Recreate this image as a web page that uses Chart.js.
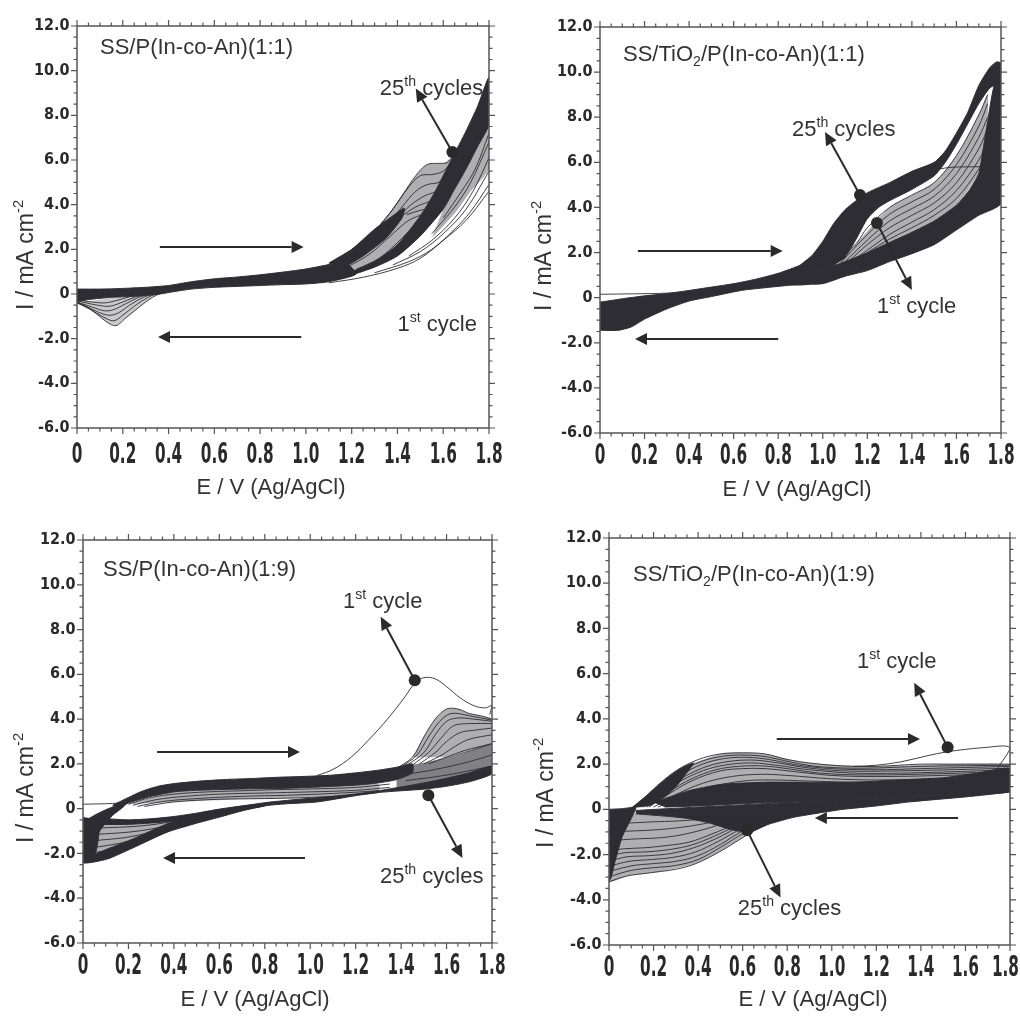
<!DOCTYPE html>
<html>
<head>
<meta charset="utf-8">
<title>Cyclic voltammograms</title>
<script src="https://cdn.jsdelivr.net/npm/chart.js@4.4.0/dist/chart.umd.min.js"></script>
<style>
  body { margin: 0; background: #fff; overflow: hidden; }
  canvas { position: absolute; }
</style>
</head>
<body>
<canvas id="c1" width="510" height="506" style="left:0;top:0"></canvas>
<canvas id="c2" width="510" height="506" style="left:510px;top:0"></canvas>
<canvas id="c3" width="510" height="517" style="left:0;top:500px"></canvas>
<canvas id="c4" width="510" height="517" style="left:510px;top:500px"></canvas>
<script>
// axis ticks
const xTicks = [0, 0.2, 0.4, 0.6, 0.8, 1.0, 1.2, 1.4, 1.6, 1.8];
const xTickLabels = ['0', '0.2', '0.4', '0.6', '0.8', '1.0', '1.2', '1.4', '1.6', '1.8'];
const yTicks = [-6, -4, -2, 0, 2, 4, 6, 8, 10, 12];
const yTickLabels = ['-6.0', '-4.0', '-2.0', '0', '2.0', '4.0', '6.0', '8.0', '10.0', '12.0'];

// ---- panel 1 : SS/P(In-co-An)(1:1)   points are [E (V), I (mA cm-2)]
const p1Base = [[0,0.22],[0.1,0.22],[0.2,0.25],[0.3,0.3],[0.4,0.38],[0.5,0.55],[0.6,0.68],[0.7,0.76],[0.8,0.86],[0.9,0.98],[1.0,1.12],[1.1,1.32],[1.16,1.5],[1.22,0.9],[1.1,0.55],[1.0,0.45],[0.9,0.42],[0.8,0.38],[0.7,0.34],[0.6,0.3],[0.5,0.22],[0.42,0.1],[0.35,-0.02],[0.25,-0.1],[0.15,-0.15],[0.05,-0.25],[0,-0.35]];
const p1Branch = [[1.1,1.38],[1.2,2.0],[1.3,2.9],[1.38,3.5],[1.43,3.85],[1.42,3.4],[1.35,2.5],[1.25,1.7],[1.16,1.15]];
const p1Main = [[1.2,1.0],[1.3,1.45],[1.4,2.2],[1.5,3.5],[1.56,4.5],[1.6,5.3],[1.64,6.1],[1.7,7.3],[1.75,8.4],[1.8,9.7],[1.8,7.6],[1.75,6.6],[1.7,5.6],[1.65,4.7],[1.6,3.8],[1.5,2.6],[1.4,1.7],[1.3,1.2],[1.2,0.85]];
const p1HumpArea = [[1.15,1.3],[1.25,2.3],[1.35,3.4],[1.42,4.4],[1.48,5.3],[1.53,5.8],[1.6,5.85],[1.64,6.1],[1.56,4.5],[1.5,3.5],[1.4,2.2],[1.3,1.45],[1.2,1.0]];
const p1RightArea = [[1.55,2.5],[1.65,3.6],[1.72,4.6],[1.8,5.6],[1.8,7.6],[1.7,5.6],[1.6,3.8]];
const p1Hump1 = [[1.15,1.45],[1.25,2.3],[1.35,3.4],[1.42,4.4],[1.48,5.3],[1.53,5.8],[1.58,5.85],[1.62,5.9],[1.66,6.5]];
const p1Hump2 = [[1.3,2.8],[1.38,3.8],[1.45,4.8],[1.5,5.3],[1.55,5.35],[1.6,5.5],[1.65,6.1]];
const p1Hump3 = [[1.35,3.0],[1.42,3.9],[1.48,4.6],[1.53,4.9],[1.58,5.0],[1.63,5.5]];
const p1Hump4 = [[1.4,3.4],[1.46,4.0],[1.52,4.4],[1.57,4.6],[1.62,5.0]];
const p1Hump5 = [[1.42,3.5],[1.48,3.9],[1.53,4.1],[1.58,4.3],[1.62,4.7]];
const p1Hump6 = [[1.44,3.55],[1.5,3.75],[1.55,3.85],[1.6,4.2]];
const p1Hump7 = [[1.18,1.2],[1.28,1.8],[1.38,2.7],[1.45,3.3],[1.52,3.6]];
const p1Hump8 = [[1.22,1.1],[1.32,1.6],[1.4,2.3],[1.47,3.0],[1.52,3.3]];
const p1Hump9 = [[1.25,1.15],[1.35,1.75],[1.43,2.5],[1.5,3.1]];
const p1Rev1 = [[1.1,0.5],[1.25,0.75],[1.4,1.15],[1.5,1.6],[1.6,2.4],[1.7,3.3],[1.8,4.6]];
const p1Rev2 = [[1.3,0.95],[1.45,1.45],[1.55,2.0],[1.65,2.9],[1.72,3.7],[1.8,4.9]];
const p1Rev3 = [[1.38,1.3],[1.5,1.9],[1.6,2.7],[1.7,3.8],[1.8,5.5]];
const p1Rev4 = [[1.45,1.7],[1.55,2.4],[1.65,3.4],[1.73,4.6],[1.8,6.1]];
const p1Rev5 = [[1.55,2.7],[1.65,3.9],[1.72,5.0],[1.8,6.8]];
const p1Rev6 = [[1.6,3.4],[1.68,4.6],[1.74,5.6],[1.8,7.2]];
const p1Dip1 = [[0.4,0.2],[0.33,-0.15],[0.27,-0.6],[0.21,-1.1],[0.17,-1.42],[0.13,-1.25],[0.08,-0.85],[0.03,-0.5],[0,-0.4]];
const p1Dip2 = [[0.38,0.15],[0.31,-0.15],[0.25,-0.55],[0.2,-0.95],[0.16,-1.2],[0.11,-1.0],[0.06,-0.7],[0,-0.4]];
const p1Dip3 = [[0.36,0.1],[0.29,-0.15],[0.23,-0.5],[0.18,-0.85],[0.14,-0.95],[0.09,-0.8],[0.04,-0.55],[0,-0.38]];
const p1Dip4 = [[0.34,0.08],[0.27,-0.15],[0.21,-0.45],[0.16,-0.7],[0.12,-0.75],[0.07,-0.6],[0,-0.35]];
const p1Dip5 = [[0.32,0.05],[0.25,-0.15],[0.19,-0.4],[0.14,-0.55],[0.09,-0.5],[0.04,-0.4],[0,-0.3]];
const p1Dip6 = [[0.3,0.03],[0.23,-0.12],[0.17,-0.3],[0.12,-0.4],[0.06,-0.35],[0,-0.28]];

// ---- panel 2 : SS/TiO2/P(In-co-An)(1:1)
const p2Trunk = [[0,-0.2],[0.1,-0.05],[0.2,0.08],[0.3,0.18],[0.4,0.32],[0.5,0.47],[0.6,0.62],[0.7,0.82],[0.8,1.08],[0.9,1.45],[0.95,1.8],[0.95,0.65],[0.85,0.55],[0.75,0.45],[0.64,0.33],[0.5,0.05],[0.4,-0.15],[0.3,-0.5],[0.2,-0.95],[0.14,-1.3],[0.08,-1.45],[0,-1.45]];
const p2Upper = [[0.9,1.45],[0.95,1.85],[1.0,2.5],[1.05,3.3],[1.1,3.9],[1.15,4.3],[1.2,4.65],[1.3,5.1],[1.4,5.6],[1.5,6.0],[1.55,6.5],[1.6,7.3],[1.65,8.2],[1.7,9.4],[1.75,10.2],[1.78,10.45],[1.8,10.4],[1.8,9.6],[1.75,9.3],[1.7,8.6],[1.65,7.7],[1.6,6.8],[1.55,6.0],[1.5,5.4],[1.4,4.8],[1.3,4.3],[1.25,4.0],[1.2,3.5],[1.15,2.6],[1.1,1.8],[1.05,1.45],[1.0,1.25],[0.9,1.0]];
const p2Lower = [[0.9,0.95],[1.0,1.25],[1.1,1.6],[1.2,2.0],[1.3,2.45],[1.4,2.9],[1.5,3.4],[1.6,4.1],[1.66,4.8],[1.7,5.5],[1.72,6.6],[1.74,7.8],[1.76,9.0],[1.78,9.8],[1.8,10.0],[1.8,4.2],[1.7,3.65],[1.6,3.0],[1.5,2.35],[1.4,1.95],[1.3,1.6],[1.2,1.2],[1.1,0.95],[1.0,0.62],[0.9,0.6]];
const p2FanArea = [[1.05,1.5],[1.15,2.4],[1.3,4.0],[1.5,5.1],[1.6,6.3],[1.7,8.1],[1.74,9.0],[1.74,7.8],[1.72,6.6],[1.7,5.5],[1.6,4.1],[1.5,3.4],[1.3,2.45],[1.1,1.6]];
const p2Fan1 = [[1.05,1.5],[1.15,2.4],[1.2,3.1],[1.3,4.0],[1.4,4.55],[1.5,5.1],[1.6,6.3],[1.7,8.1],[1.74,9.0]];
const p2Fan2 = [[1.08,1.55],[1.2,2.8],[1.3,3.7],[1.4,4.25],[1.5,4.8],[1.6,5.9],[1.7,7.6],[1.74,8.6]];
const p2Fan3 = [[1.1,1.6],[1.2,2.55],[1.3,3.4],[1.4,3.95],[1.5,4.5],[1.6,5.5],[1.7,7.1],[1.74,8.0]];
const p2Fan4 = [[1.12,1.65],[1.2,2.35],[1.3,3.1],[1.4,3.65],[1.5,4.2],[1.6,5.1],[1.7,6.6],[1.74,7.5]];
const p2Fan5 = [[1.15,1.75],[1.3,2.8],[1.4,3.35],[1.5,3.9],[1.6,4.75],[1.7,6.1],[1.74,6.9]];
const p2Fan6 = [[1.2,2.0],[1.3,2.6],[1.4,3.1],[1.5,3.65],[1.6,4.4],[1.7,5.7],[1.73,6.3]];
const p2First = [[0,0.15],[0.15,0.17],[0.3,0.2],[0.45,0.3]];
const p2FirstTop = [[1.35,4.9],[1.45,5.5],[1.55,5.75],[1.65,5.8],[1.8,5.8]];
const p2Slit = [[0.25,-0.05],[0.4,0.05],[0.55,0.15],[0.68,0.25]];

// ---- panel 3 : SS/P(In-co-An)(1:9)
const p3Upper = [[0.13,0.15],[0.2,0.5],[0.26,0.78],[0.33,1.0],[0.4,1.12],[0.5,1.22],[0.62,1.3],[0.75,1.35],[0.85,1.4],[1.0,1.45],[1.1,1.5],[1.2,1.6],[1.3,1.72],[1.38,1.85],[1.45,2.0],[1.45,1.6],[1.38,1.3],[1.3,1.15],[1.2,1.05],[1.1,1.0],[1.0,0.95],[0.85,0.9],[0.7,0.88],[0.5,0.82],[0.4,0.75],[0.3,0.55],[0.2,0.25],[0.15,0.05]];
const p3UpperArea = [[0.2,0.2],[0.4,0.75],[0.7,0.88],[1.0,0.95],[1.3,1.1],[1.3,0.72],[1.0,0.5],[0.7,0.42],[0.4,0.3]];
const p3Up1 = [[0.2,0.2],[0.3,0.5],[0.4,0.65],[0.55,0.75],[0.7,0.8],[0.85,0.85],[1.0,0.88],[1.2,0.95],[1.35,1.1]];
const p3Up2 = [[0.22,0.15],[0.32,0.4],[0.45,0.55],[0.6,0.65],[0.8,0.7],[1.0,0.75],[1.2,0.82],[1.35,0.95]];
const p3Up3 = [[0.24,0.1],[0.35,0.32],[0.5,0.45],[0.7,0.55],[0.9,0.6],[1.1,0.68],[1.3,0.8]];
const p3Up4 = [[0.27,0.1],[0.4,0.3],[0.6,0.42],[0.8,0.45],[1.0,0.5],[1.2,0.62],[1.3,0.72]];
const p3Lower = [[0.06,-2.0],[0.12,-1.75],[0.22,-1.35],[0.37,-0.68],[0.52,-0.22],[0.66,0.05],[0.81,0.28],[0.95,0.42],[1.1,0.55],[1.2,0.66],[1.3,0.8],[1.4,0.97],[1.5,1.15],[1.6,1.36],[1.7,1.6],[1.8,1.9],[1.8,1.55],[1.7,1.2],[1.6,1.0],[1.5,0.87],[1.4,0.8],[1.3,0.72],[1.2,0.58],[1.03,0.3],[0.9,0.22],[0.81,0.14],[0.7,-0.1],[0.6,-0.38],[0.5,-0.65],[0.37,-1.05],[0.22,-1.75],[0.12,-2.2],[0.05,-2.38],[0,-2.42],[0,-2.1]];
const p3FanTop = [[0,-0.45],[0.1,-0.45],[0.2,-0.5],[0.3,-0.45],[0.4,-0.35],[0.5,-0.2],[0.6,-0.02],[0.7,0.12],[0.8,0.22],[0.8,0.12],[0.6,-0.2],[0.4,-0.55],[0.2,-0.7],[0,-0.7]];
const p3FanArea = [[0,-0.5],[0.2,-0.5],[0.4,-0.35],[0.6,-0.05],[0.8,0.2],[0.66,-0.15],[0.52,-0.5],[0.37,-1.0],[0.22,-1.7],[0.1,-2.3],[0,-2.4]];
const p3Strip = [[0,-0.4],[0.05,-0.5],[0.07,-1.0],[0.06,-1.8],[0.04,-2.35],[0,-2.4]];
const p3Wedge = [[0,-0.6],[0.05,-0.3],[0.1,-0.05],[0.15,0.15],[0.2,0.35],[0.18,0.1],[0.13,-0.3],[0.08,-0.9],[0.04,-1.6],[0,-2.1]];
const p3Fan1 = [[0.78,0.15],[0.65,-0.05],[0.5,-0.35],[0.35,-0.65],[0.22,-0.8],[0.1,-0.85],[0,-0.9]];
const p3Fan2 = [[0.76,0.12],[0.62,-0.12],[0.48,-0.45],[0.33,-0.85],[0.2,-1.05],[0.1,-1.12],[0,-1.2]];
const p3Fan3 = [[0.74,0.1],[0.6,-0.2],[0.45,-0.6],[0.3,-1.05],[0.18,-1.3],[0.08,-1.4],[0,-1.5]];
const p3Fan4 = [[0.72,0.05],[0.58,-0.28],[0.43,-0.75],[0.28,-1.25],[0.16,-1.55],[0.07,-1.7],[0,-1.8]];
const p3Fan5 = [[0.7,0.0],[0.56,-0.35],[0.41,-0.85],[0.26,-1.45],[0.14,-1.8],[0.06,-1.95],[0,-2.05]];
const p3Fan6 = [[0.68,-0.05],[0.54,-0.42],[0.39,-0.95],[0.24,-1.6],[0.12,-2.0],[0.05,-2.15],[0,-2.25]];
const p3Dense = [[1.38,1.85],[1.5,2.05],[1.6,2.3],[1.7,2.6],[1.8,2.9],[1.8,1.6],[1.7,1.3],[1.5,1.0],[1.38,0.9]];
const p3HumpArea = [[1.45,2.3],[1.5,3.2],[1.55,4.0],[1.6,4.45],[1.65,4.45],[1.7,4.25],[1.8,4.0],[1.8,2.9],[1.6,2.3]];
const p3Hump1 = [[1.38,1.8],[1.45,2.3],[1.5,3.2],[1.55,4.0],[1.6,4.45],[1.65,4.45],[1.7,4.25],[1.75,4.15],[1.8,4.0]];
const p3Hump2 = [[1.4,1.85],[1.47,2.4],[1.52,3.2],[1.57,3.9],[1.62,4.25],[1.7,4.15],[1.8,3.95]];
const p3Hump3 = [[1.42,1.9],[1.5,2.5],[1.55,3.3],[1.6,3.9],[1.65,4.05],[1.72,4.0],[1.8,3.9]];
const p3Hump4 = [[1.45,1.95],[1.52,2.5],[1.58,3.2],[1.63,3.7],[1.7,3.8],[1.8,3.8]];
const p3Hump5 = [[1.48,2.0],[1.55,2.5],[1.6,3.0],[1.66,3.4],[1.72,3.5],[1.8,3.6]];
const p3Hump6 = [[1.5,2.0],[1.58,2.4],[1.64,2.8],[1.7,3.1],[1.8,3.3]];
const p3Hump7 = [[1.52,2.0],[1.6,2.3],[1.68,2.6],[1.8,2.9]];
const p3Mid1 = [[1.4,1.5],[1.55,1.75],[1.7,2.1],[1.8,2.4]];
const p3Mid2 = [[1.42,1.25],[1.6,1.5],[1.8,1.9]];
const p3FirstLow = [[0,0.2],[0.1,0.22],[0.16,0.25]];
const p3First = [[1.03,1.48],[1.1,1.75],[1.18,2.3],[1.26,3.1],[1.34,4.0],[1.41,4.9],[1.46,5.6],[1.5,5.85],[1.55,5.8],[1.6,5.45],[1.66,4.95],[1.72,4.6],[1.77,4.5],[1.8,4.6],[1.79,4.2]];

// ---- panel 4 : SS/TiO2/P(In-co-An)(1:9)
const p4Wedge = [[0,0.0],[0.06,0.03],[0.12,0.08],[0.1,-0.4],[0.06,-1.2],[0.03,-2.2],[0.01,-3.0],[0,-3.2]];
const p4HumpEdge = [[0.1,0.05],[0.18,0.7],[0.25,1.3],[0.32,1.8],[0.38,2.05],[0.34,1.5],[0.3,1.0],[0.25,0.55],[0.18,0.15]];
const p4MidBand = [[0.2,0.3],[0.35,0.8],[0.5,1.1],[0.7,1.2],[0.9,1.2],[1.1,1.2],[1.3,1.3],[1.5,1.4],[1.65,1.6],[1.8,1.8],[1.8,0.8],[1.6,0.7],[1.4,0.6],[1.2,0.5],[1.0,0.4],[0.8,0.32],[0.6,0.25],[0.4,0.15],[0.25,0.1]];
const p4RevBand = [[0.12,-0.05],[0.3,0.05],[0.5,0.15],[0.7,0.25],[0.9,0.35],[1.1,0.45],[1.3,0.55],[1.5,0.65],[1.65,0.75],[1.8,0.85],[1.8,0.77],[1.6,0.55],[1.35,0.33],[1.2,0.15],[1.05,0.0],[0.95,-0.15],[0.83,-0.35],[0.72,-0.65],[0.63,-1.0],[0.55,-0.9],[0.45,-0.6],[0.35,-0.4],[0.25,-0.3],[0.12,-0.2]];
const p4HumpArea = [[0.12,0.1],[0.3,1.7],[0.5,2.45],[0.6,2.5],[0.7,2.45],[0.9,2.05],[1.2,1.9],[1.5,2.0],[1.8,2.0],[1.8,1.8],[1.5,1.4],[1.1,1.2],[0.7,1.2],[0.35,0.8],[0.2,0.3]];
const p4Hump1 = [[0.12,0.1],[0.2,0.9],[0.3,1.7],[0.4,2.2],[0.5,2.45],[0.6,2.5],[0.7,2.45],[0.8,2.2],[0.9,2.05],[1.0,1.95],[1.1,1.9],[1.2,1.9],[1.3,1.95],[1.4,2.0],[1.5,2.0],[1.6,2.0],[1.7,2.0],[1.8,2.0]];
const p4Hump2 = [[0.14,0.1],[0.22,0.8],[0.32,1.5],[0.42,2.0],[0.52,2.25],[0.62,2.3],[0.72,2.2],[0.85,1.95],[1.0,1.8],[1.2,1.75],[1.4,1.8],[1.6,1.85],[1.8,1.9]];
const p4Hump3 = [[0.16,0.1],[0.25,0.8],[0.35,1.4],[0.45,1.8],[0.55,2.0],[0.65,2.05],[0.75,1.95],[0.9,1.75],[1.1,1.6],[1.3,1.6],[1.5,1.65],[1.8,1.75]];
const p4Hump4 = [[0.18,0.1],[0.28,0.75],[0.38,1.3],[0.5,1.7],[0.6,1.8],[0.7,1.8],[0.85,1.65],[1.0,1.5],[1.2,1.45],[1.5,1.5],[1.8,1.6]];
const p4Hump5 = [[0.2,0.1],[0.3,0.65],[0.42,1.15],[0.55,1.45],[0.68,1.55],[0.8,1.5],[1.0,1.35],[1.2,1.3],[1.5,1.35],[1.8,1.45]];
const p4Hump6 = [[0.22,0.1],[0.34,0.6],[0.46,1.0],[0.6,1.25],[0.72,1.3],[0.9,1.25],[1.1,1.2],[1.4,1.25],[1.8,1.35]];
const p4Hump7 = [[0.13,0.1],[0.21,0.85],[0.31,1.6],[0.41,2.1],[0.51,2.35],[0.61,2.4],[0.71,2.32],[0.82,2.08],[0.95,1.88],[1.15,1.82],[1.4,1.9],[1.8,1.95]];
const p4Hump8 = [[0.15,0.1],[0.24,0.8],[0.34,1.45],[0.44,1.9],[0.54,2.12],[0.64,2.18],[0.74,2.08],[0.88,1.85],[1.05,1.7],[1.3,1.7],[1.8,1.82]];
const p4Hump9 = [[0.17,0.1],[0.27,0.78],[0.37,1.35],[0.48,1.75],[0.58,1.9],[0.69,1.92],[0.8,1.8],[0.95,1.6],[1.15,1.52],[1.5,1.58],[1.8,1.68]];
const p4FanArea = [[0.72,-0.6],[0.63,-1.07],[0.51,-1.8],[0.39,-2.4],[0.23,-2.75],[0.08,-2.95],[0,-3.2],[0,-0.3],[0.12,-0.2],[0.35,-0.3],[0.55,-0.3]];
const p4Fan1 = [[0.72,-0.6],[0.63,-1.07],[0.51,-1.8],[0.39,-2.4],[0.3,-2.65],[0.23,-2.75],[0.15,-2.85],[0.08,-2.95],[0,-3.2]];
const p4Fan2 = [[0.7,-0.5],[0.6,-0.95],[0.5,-1.55],[0.4,-2.05],[0.3,-2.3],[0.2,-2.4],[0.1,-2.5],[0,-2.75]];
const p4Fan3 = [[0.68,-0.45],[0.58,-0.8],[0.48,-1.3],[0.38,-1.7],[0.28,-1.95],[0.18,-2.05],[0.08,-2.1],[0,-2.3]];
const p4Fan4 = [[0.66,-0.4],[0.56,-0.7],[0.46,-1.1],[0.36,-1.45],[0.26,-1.6],[0.16,-1.7],[0.06,-1.75],[0,-1.85]];
const p4Fan5 = [[0.64,-0.35],[0.54,-0.55],[0.44,-0.85],[0.34,-1.1],[0.24,-1.25],[0.14,-1.3],[0.05,-1.35],[0,-1.4]];
const p4Fan6 = [[0.62,-0.3],[0.52,-0.45],[0.42,-0.65],[0.32,-0.8],[0.22,-0.9],[0.12,-0.95],[0,-1.0]];
const p4Fan7 = [[0.6,-0.25],[0.5,-0.35],[0.4,-0.45],[0.3,-0.52],[0.2,-0.55],[0.1,-0.6],[0,-0.6]];
const p4Fan8 = [[0.71,-0.55],[0.61,-1.02],[0.5,-1.68],[0.4,-2.22],[0.3,-2.48],[0.2,-2.58],[0.1,-2.7],[0,-2.98]];
const p4Fan9 = [[0.69,-0.47],[0.59,-0.88],[0.49,-1.42],[0.39,-1.88],[0.29,-2.12],[0.19,-2.22],[0.09,-2.3],[0,-2.52]];
const p4Fan10 = [[0.67,-0.42],[0.57,-0.75],[0.47,-1.2],[0.37,-1.58],[0.27,-1.78],[0.17,-1.88],[0.07,-1.92],[0,-2.08]];
const p4First = [[1.1,1.9],[1.2,1.95],[1.31,2.1],[1.42,2.35],[1.52,2.55],[1.6,2.65],[1.67,2.72],[1.8,2.72],[1.74,1.75]];
const p4Slit = [[0.13,0.0],[0.4,0.12],[0.7,0.28],[1.0,0.42],[1.2,0.52],[1.45,0.64]];

const INK = '#2d2d33';
const SHADE = 'rgba(45,45,51,0.38)';
const TXT = '#333333';
const SANS = '"Liberation Sans", Arial, sans-serif';
const NARROW = '"Liberation Sans Narrow", "DejaVu Sans Condensed", sans-serif';

const panels = [
  {
    id: 'c1', area: [77, 26, 489, 428], xLab: 27,
    shades: [p1HumpArea, p1RightArea],
    dips: [p1Dip1],
    bands: [p1Base, p1Branch, p1Main],
    lines: [p1Hump1, p1Hump2, p1Hump3, p1Hump4, p1Hump5, p1Hump6, p1Hump7, p1Hump8, p1Hump9,
            p1Rev1, p1Rev2, p1Rev3, p1Rev4, p1Rev5, p1Rev6,
            p1Dip1, p1Dip2, p1Dip3, p1Dip4, p1Dip5, p1Dip6],
    slits: [],
    title: [['SS/P(In-co-An)(1:1)', 0]], titlePos: [100, 54],
    yTitle: [25, 255], xTitle: [271, 494],
    notes: [
      { text: [['25', 0], ['th', 1], [' cycles', 0]], at: [1.323, 9.27], dot: [1.64, 6.36], head: [1.48, 9.2] },
      { text: [['1', 0], ['st', 1], [' cycle', 0]], at: [1.40, -1.3] }
    ],
    hArrows: [[0.362, 0.99, 2.1], [0.98, 0.354, -1.93]]
  },
  {
    id: 'c2', area: [90, 27, 491, 433], xLab: 23,
    shades: [p2FanArea],
    dips: [],
    bands: [p2Trunk, p2Upper, p2Lower],
    lines: [p2Fan1, p2Fan2, p2Fan3, p2Fan4, p2Fan5, p2Fan6, p2First, p2FirstTop],
    slits: [p2Slit],
    title: [['SS/TiO', 0], ['2', -1], ['/P(In-co-An)(1:1)', 0]], titlePos: [113, 61],
    yTitle: [33, 256], xTitle: [287, 496],
    notes: [
      { text: [['25', 0], ['th', 1], [' cycles', 0]], at: [0.862, 7.52], dot: [1.167, 4.55], head: [1.01, 7.35] },
      { text: [['1', 0], ['st', 1], [' cycle', 0]], at: [1.243, -0.32], dot: [1.243, 3.31], head: [1.40, 0.34] }
    ],
    hArrows: [[0.17, 0.82, 2.07], [0.80, 0.157, -1.83]]
  },
  {
    id: 'c3', area: [83, 40, 492, 443], xLab: 23,
    shades: [p3UpperArea, p3FanArea, p3HumpArea],
    dips: [],
    bands: [p3Upper, p3Lower, p3FanTop, p3Strip, p3Wedge],
    lines: [p3Up1, p3Up2, p3Up3, p3Up4, p3Fan1, p3Fan2, p3Fan3, p3Fan4, p3Fan5, p3Fan6,
            p3Hump1, p3Hump2, p3Hump3, p3Hump4, p3Hump5, p3Hump6, p3Hump7, p3Mid1, p3Mid2, p3FirstLow, p3First],
    dense: [p3Dense],
    slits: [],
    title: [['SS/P(In-co-An)(1:9)', 0]], titlePos: [103, 76],
    yTitle: [25, 288], xTitle: [255, 506],
    notes: [
      { text: [['1', 0], ['st', 1], [' cycle', 0]], at: [1.144, 9.32], dot: [1.46, 5.74], head: [1.31, 8.57] },
      { text: [['25', 0], ['th', 1], [' cycles', 0]], at: [1.307, -2.96], dot: [1.52, 0.6], head: [1.67, -2.2] }
    ],
    hArrows: [[0.326, 0.955, 2.53], [0.977, 0.352, -2.2]]
  },
  {
    id: 'c4', area: [99, 38, 500, 445], xLab: 23,
    shades: [p4HumpArea, p4FanArea],
    dips: [],
    bands: [p4Wedge, p4HumpEdge, p4MidBand, p4RevBand],
    lines: [p4Hump1, p4Hump2, p4Hump3, p4Hump4, p4Hump5, p4Hump6, p4Hump7, p4Hump8, p4Hump9,
            p4Fan1, p4Fan2, p4Fan3, p4Fan4, p4Fan5, p4Fan6, p4Fan7, p4Fan8, p4Fan9, p4Fan10, p4First],
    slits: [p4Slit],
    title: [['SS/TiO', 0], ['2', -1], ['/P(In-co-An)(1:9)', 0]], titlePos: [123, 81],
    yTitle: [35, 293], xTitle: [303, 506],
    notes: [
      { text: [['1', 0], ['st', 1], [' cycle', 0]], at: [1.113, 6.61], dot: [1.52, 2.75], head: [1.37, 5.6] },
      { text: [['25', 0], ['th', 1], [' cycles', 0]], at: [0.578, -4.32], dot: [0.62, -0.93], head: [0.77, -3.9] }
    ],
    hArrows: [[0.753, 1.396, 3.11], [1.567, 0.924, -0.38]]
  }
];

function pts(a) {
  return a.map(p => ({ x: p[0], y: p[1] }));
}

function areaSet(a, color) {
  return { data: pts(a), showLine: true, fill: 'shape', backgroundColor: color, borderColor: color,
           borderWidth: 0, pointRadius: 0, tension: 0.2 };
}

function lineSet(a, w, color) {
  return { data: pts(a), showLine: true, fill: false, borderColor: color || INK,
           borderWidth: w, pointRadius: 0, tension: 0.35 };
}

function bandSet(a) {
  const d = areaSet(a, INK);
  d.borderWidth = 1;
  return d;
}

// draw a run of text pieces; level 1 = superscript, -1 = subscript
function richText(ctx, segs, x, y, size, align) {
  const small = size * 0.64;
  let w = 0;
  segs.forEach(s => {
    ctx.font = (s[1] ? small : size) + 'px ' + SANS;
    w += ctx.measureText(s[0]).width;
  });
  let cx = align === 'center' ? x - w / 2 : x;
  segs.forEach(s => {
    ctx.font = (s[1] ? small : size) + 'px ' + SANS;
    const dy = s[1] === 1 ? -size * 0.42 : (s[1] === -1 ? size * 0.22 : 0);
    ctx.fillText(s[0], cx, y + dy);
    cx += ctx.measureText(s[0]).width;
  });
}

function arrow(ctx, x1, y1, x2, y2, lw, hl, hw) {
  const ang = Math.atan2(y2 - y1, x2 - x1);
  const c = Math.cos(ang), s = Math.sin(ang);
  const bx = x2 - hl * c, by = y2 - hl * s;
  ctx.lineWidth = lw;
  ctx.beginPath();
  ctx.moveTo(x1, y1);
  ctx.lineTo(bx, by);
  ctx.stroke();
  ctx.beginPath();
  ctx.moveTo(x2, y2);
  ctx.lineTo(bx + hw * s, by - hw * c);
  ctx.lineTo(bx - hw * s, by + hw * c);
  ctx.closePath();
  ctx.fill();
}

function framePlugin(p) {
  return {
    id: 'frame',
    afterDraw(chart) {
      const ctx = chart.ctx;
      const a = chart.chartArea;
      const xs = chart.scales.x, ys = chart.scales.y;
      ctx.save();
      ctx.strokeStyle = '#555';
      ctx.fillStyle = '#555';
      ctx.lineWidth = 1.5;
      ctx.strokeRect(a.left, a.top, a.right - a.left, a.bottom - a.top);

      // ticks on all four sides, pointing out
      ctx.lineWidth = 1.2;
      ctx.beginPath();
      for (let i = 0; i <= 36; i++) {
        const px = xs.getPixelForValue(i * 0.05);
        const len = i % 4 === 0 ? 6 : 3.5;
        ctx.moveTo(px, a.bottom); ctx.lineTo(px, a.bottom + len);
        ctx.moveTo(px, a.top); ctx.lineTo(px, a.top - len);
      }
      for (let i = 0; i <= 36; i++) {
        const py = ys.getPixelForValue(-6 + i * 0.5);
        const len = i % 4 === 0 ? 6 : 3.5;
        ctx.moveTo(a.left, py); ctx.lineTo(a.left - len, py);
        ctx.moveTo(a.right, py); ctx.lineTo(a.right + len, py);
      }
      ctx.stroke();

      // tick labels (x ones are tall and narrow in the original)
      ctx.fillStyle = '#2a2a2a';
      ctx.textBaseline = 'middle';
      xTicks.forEach((v, i) => {
        ctx.save();
        ctx.font = 'bold 17px ' + NARROW;
        const half = ctx.measureText(xTickLabels[i]).width / 2;
        ctx.translate(Math.min(xs.getPixelForValue(v), chart.width - half - 1), a.bottom + p.xLab);
        ctx.scale(1, 1.7);
        ctx.textAlign = 'center';
        ctx.fillText(xTickLabels[i], 0, 0);
        ctx.restore();
      });
      ctx.font = 'bold 16px ' + NARROW;
      ctx.textAlign = 'right';
      yTicks.forEach((v, i) => {
        ctx.fillText(yTickLabels[i], a.left - 7.5, ys.getPixelForValue(v));
      });

      // axis titles
      ctx.fillStyle = TXT;
      ctx.textBaseline = 'alphabetic';
      ctx.textAlign = 'left';
      richText(ctx, [['E / V (Ag/AgCl)', 0]], p.xTitle[0], p.xTitle[1], 22, 'center');
      ctx.save();
      ctx.translate(p.yTitle[0], p.yTitle[1]);
      ctx.rotate(-Math.PI / 2);
      richText(ctx, [['I / mA cm', 0], ['-2', 1]], 0, 8, 23, 'center');
      ctx.restore();

      // panel label
      richText(ctx, p.title, p.titlePos[0], p.titlePos[1], 22, 'left');

      // cycle notes
      ctx.strokeStyle = '#2a2a2a';
      ctx.fillStyle = '#2a2a2a';
      p.notes.forEach(n => {
        if (n.dot) {
          const dx = xs.getPixelForValue(n.dot[0]), dy = ys.getPixelForValue(n.dot[1]);
          arrow(ctx, dx, dy, xs.getPixelForValue(n.head[0]), ys.getPixelForValue(n.head[1]), 2, 13, 6);
          ctx.beginPath();
          ctx.arc(dx, dy, 6, 0, Math.PI * 2);
          ctx.fill();
        }
      });
      ctx.fillStyle = TXT;
      p.notes.forEach(n => {
        richText(ctx, n.text, xs.getPixelForValue(n.at[0]), ys.getPixelForValue(n.at[1]) + 8, 22, 'left');
      });

      // scan direction arrows
      ctx.fillStyle = '#2a2a2a';
      p.hArrows.forEach(h => {
        const py = ys.getPixelForValue(h[2]);
        arrow(ctx, xs.getPixelForValue(h[0]), py, xs.getPixelForValue(h[1]), py, 2, 12, 6);
      });
      ctx.restore();
    }
  };
}

panels.forEach(p => {
  const ds = [];
  p.shades.forEach(a => ds.push(areaSet(a, SHADE)));
  p.dips.forEach(a => ds.push(areaSet(a, 'rgba(45,45,51,0.26)')));
  (p.dense || []).forEach(a => ds.push(areaSet(a, 'rgba(45,45,51,0.6)')));
  p.bands.forEach(a => ds.push(bandSet(a)));
  p.lines.forEach(a => ds.push(lineSet(a, 0.9)));
  p.slits.forEach(a => ds.push(lineSet(a, 1.6, '#ffffff')));

  const cv = document.getElementById(p.id);
  new Chart(cv, {
    type: 'scatter',
    data: { datasets: ds },
    options: {
      responsive: false,
      animation: false,
      events: [],
      layout: {
        padding: { left: p.area[0], top: p.area[1], right: cv.width - p.area[2], bottom: cv.height - p.area[3] }
      },
      scales: {
        x: { type: 'linear', min: 0, max: 1.8, display: false },
        y: { type: 'linear', min: -6, max: 12, display: false }
      },
      plugins: { legend: { display: false }, tooltip: { enabled: false } }
    },
    plugins: [framePlugin(p)]
  });
});
</script>
</body>
</html>
